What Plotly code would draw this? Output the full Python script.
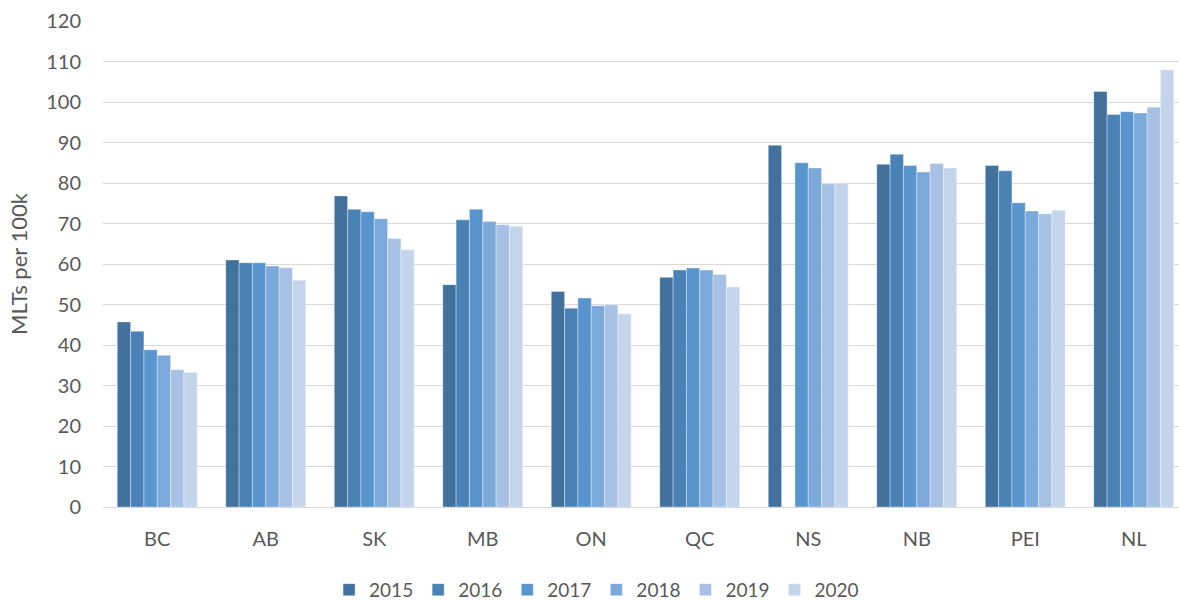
import plotly.graph_objects as go

provinces = ["BC", "AB", "SK", "MB", "ON", "QC", "NS", "NB", "PEI", "NL"]
years = ["2015", "2016", "2017", "2018", "2019", "2020"]

v2015 = [45.7, 61.0, 76.8, 54.9, 53.2, 56.7, 89.3, 84.6, 84.3, 102.6]
v2016 = [43.4, 60.3, 73.5, 70.9, 49.1, 58.5, None, 87.1, 83.0, 96.9]
v2017 = [38.8, 60.3, 72.9, 73.5, 51.6, 59.0, 85.0, 84.3, 75.1, 97.6]
v2018 = [37.5, 59.5, 71.2, 70.5, 49.7, 58.5, 83.7, 82.7, 73.1, 97.3]
v2019 = [33.9, 59.1, 66.3, 69.7, 49.9, 57.4, 79.8, 84.8, 72.4, 98.7]
v2020 = [33.2, 56.0, 63.5, 69.3, 47.7, 54.3, 80.0, 83.7, 73.3, 107.9]

series = [v2015, v2016, v2017, v2018, v2019, v2020]
colors = ["#41719C", "#4A82B6", "#5895CC", "#7BA9DA", "#A6C1E4", "#C4D5EB"]

font_family = "Lato, 'Open Sans', sans-serif"
grey = "#595959"

fig = go.Figure()
for name, vals, col in zip(years, series, colors):
    fig.add_trace(go.Bar(
        x=provinces, y=vals, name=name,
        marker=dict(color=col, line=dict(color="rgba(255,255,255,0.45)", width=0.8)),
    ))

fig.update_layout(
    width=1179, height=600,
    barmode="group", bargap=0.263, bargroupgap=0,
    plot_bgcolor="white", paper_bgcolor="white",
    margin=dict(l=103, r=0, t=21, b=93),
    font=dict(family=font_family, size=20, color=grey),
    xaxis=dict(
        range=[-0.5, 9.417], showgrid=False, showline=False,
        tickfont=dict(size=20, color=grey), ticks="", ticklabelstandoff=18,
    ),
    yaxis=dict(
        range=[0, 120], dtick=10, showgrid=True, gridcolor="#D9D9D9", gridwidth=1.3,
        zeroline=True, zerolinecolor="#D9D9D9", zerolinewidth=1.3,
        tickfont=dict(size=20, color=grey), ticks="", ticklabelstandoff=21,
        title=dict(text="MLTs per 100k", font=dict(size=22, color=grey), standoff=12),
    ),
    legend=dict(
        orientation="h", xref="container", yref="container",
        x=0.506, xanchor="center", y=0.017, yanchor="middle",
        font=dict(size=19, color=grey), itemwidth=30,
    ),
    showlegend=True,
)

fig.write_html("out.html")
